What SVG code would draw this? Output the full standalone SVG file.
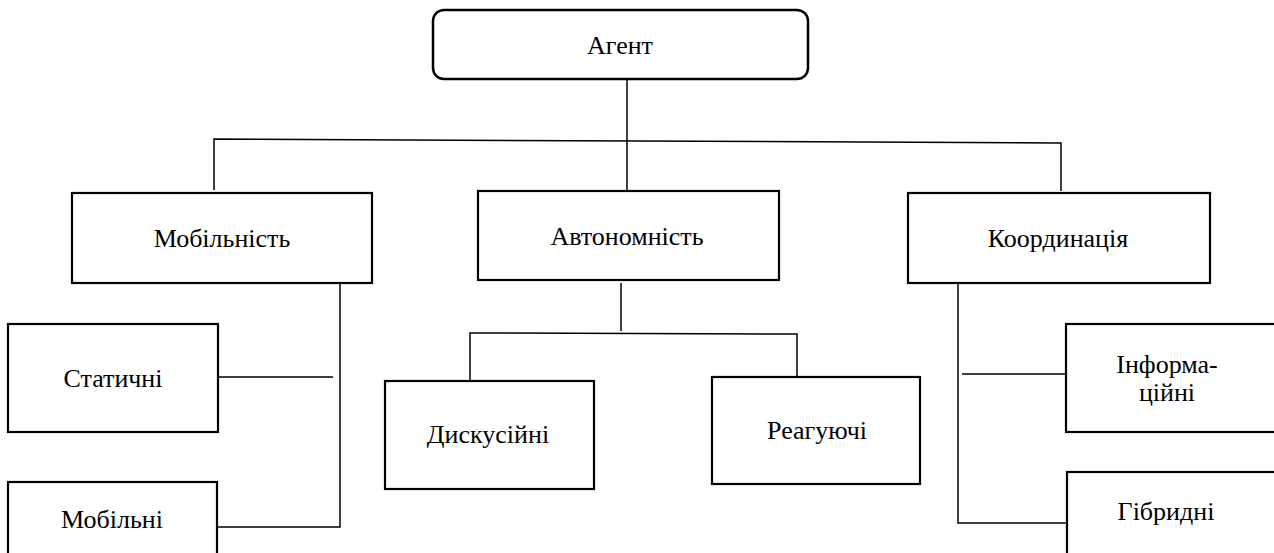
<svg xmlns="http://www.w3.org/2000/svg" width="1274" height="553" viewBox="0 0 1274 553">
<style>
.box{fill:#fff;stroke:#000;stroke-width:2.2}
.ln{fill:none;stroke:#000;stroke-width:1.5}
.t{font-family:'Liberation Serif','Times New Roman',Tinos,'DejaVu Serif',serif;font-size:26px;fill:#000;text-anchor:middle}
</style>
<rect width="1274" height="553" fill="#fff"/>
<g id="connectors">
<polyline class="ln" points="627,79 627,190"/>
<polyline class="ln" points="214,190 214,139 1061,143 1061,191"/>
<polyline class="ln" points="340,284 340,527 218,527"/>
<line class="ln" x1="218" y1="377" x2="333" y2="377"/>
<line class="ln" x1="621" y1="283" x2="621" y2="331"/>
<polyline class="ln" points="470,380 470,333 797,334 797,377"/>
<polyline class="ln" points="958,284 958,523 1067,523"/>
<line class="ln" x1="962" y1="374" x2="1066" y2="374"/>
</g>
<g id="agent">
<rect x="433" y="10" width="375" height="69" rx="11" ry="11" class="box" style="stroke-width:2.5"/>
<text class="t" x="620" y="54" font-family="Liberation Serif, serif">Агент</text>
</g>
<g id="mobility">
<rect x="72" y="193" width="300" height="90" class="box"/>
<text class="t" x="222" y="247" font-family="Liberation Serif, serif">Мобільність</text>
</g>
<g id="autonomy">
<rect x="478" y="191" width="301" height="89" class="box"/>
<text class="t" x="627" y="245" font-family="Liberation Serif, serif">Автономність</text>
</g>
<g id="coordination">
<rect x="908" y="193" width="302" height="90" class="box"/>
<text class="t" x="1058" y="247" font-family="Liberation Serif, serif">Координація</text>
</g>
<g id="static">
<rect x="8" y="324" width="210" height="108" class="box"/>
<text class="t" x="113" y="387" font-family="Liberation Serif, serif">Статичні</text>
</g>
<g id="mobile">
<rect x="8" y="482" width="209" height="80" class="box"/>
<text class="t" x="112" y="528" font-family="Liberation Serif, serif">Мобільні</text>
</g>
<g id="discursive">
<rect x="385" y="381" width="209" height="108" class="box"/>
<text class="t" x="488" y="443" font-family="Liberation Serif, serif">Дискусійні</text>
</g>
<g id="reactive">
<rect x="712" y="377" width="208" height="107" class="box"/>
<text class="t" x="817" y="439" font-family="Liberation Serif, serif">Реагуючі</text>
</g>
<g id="informational">
<rect x="1066" y="324" width="210" height="108" class="box"/>
<text class="t" x="1167" y="373" font-family="Liberation Serif, serif">Інформа-</text>
<text class="t" x="1167" y="401" font-family="Liberation Serif, serif">ційні</text>
</g>
<g id="hybrid">
<rect x="1067" y="472" width="210" height="90" class="box"/>
<text class="t" x="1166" y="520" font-family="Liberation Serif, serif">Гібридні</text>
</g>
</svg>
